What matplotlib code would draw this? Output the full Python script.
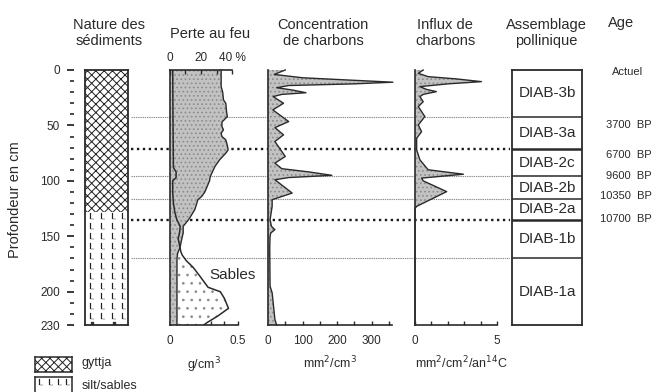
import numpy as np
import matplotlib
matplotlib.use('Agg')
import matplotlib.pyplot as plt
import matplotlib.transforms as mtransforms

plt.rcParams['font.family'] = ['Liberation Sans', 'DejaVu Sans']
plt.rcParams['hatch.linewidth'] = 0.7
TXT = '#2a2a2a'
LINE = '#2a2a2a'

# ---------------- data ----------------
loi_depth = [0, 15, 20, 27, 30, 38, 42, 47, 51, 54, 57, 60, 63, 68, 72, 75, 81, 87, 93, 96,
             100, 105, 110, 114, 117, 126, 135, 141, 147, 153, 160, 165, 170, 230]
loi_pct = [33, 33, 34, 34.5, 36, 36.5, 37, 33.5, 33.5, 34.5, 33, 33.5, 36, 37, 37.5, 36, 32, 29, 27, 26,
           25.5, 24, 22.5, 20.5, 18, 16, 12, 8.5, 8.5, 7.5, 6.5, 5, 4.5, 4.5]

den_depth = [0, 45, 88, 92, 97, 100, 110, 120, 128, 135, 141, 147, 152, 158, 164, 167, 172, 178,
             186, 196, 200, 206, 215, 222, 228, 230]
den_gcm3 = [0.02, 0.022, 0.025, 0.045, 0.045, 0.02, 0.02, 0.025, 0.035, 0.05, 0.075, 0.07, 0.06,
            0.07, 0.08, 0.09, 0.12, 0.17, 0.22, 0.28, 0.37, 0.40, 0.43, 0.35, 0.27, 0.25]

conc_depth = [0, 4, 7, 9, 11, 12.5, 14, 16, 18, 20.5, 22, 24, 30, 36, 46.5, 52, 58.5, 64.5, 78, 84,
              89, 92, 95, 97, 99, 111, 117, 123, 135, 141, 144, 147, 150, 160, 195, 201, 225, 230]
conc_val = [50, 18, 100, 230, 362, 250, 60, 25, 70, 110, 40, 15, 45, 14, 60, 20, 45, 20, 50, 20,
            40, 120, 185, 60, 20, 70, 12, 12, 6, 10, 20, 8, 6, 5, 6, 12, 20, 25]

influx_depth = [0, 3, 6, 8, 10.5, 12.5, 15, 17.5, 19.5, 22, 24, 28.6, 33, 42, 49.6, 55.6, 61.6, 72,
                81, 90, 94, 97.5, 100, 109.7, 123, 125, 230]
influx_val = [0.5, 0.2, 0.8, 2.5, 4.05, 2.0, 0.3, 0.7, 1.3, 0.5, 0.3, 0.5, 0.2, 0.6, 0.2, 0.4, 0.1, 0.1,
              0.3, 0.8, 2.95, 0.4, 0.5, 1.93, 0.1, 0.0, 0.0]

zone_bounds = [0, 42, 71, 96, 116, 135, 170, 230]
zone_labels = ['DIAB-3b', 'DIAB-3a', 'DIAB-2c', 'DIAB-2b', 'DIAB-2a', 'DIAB-1b', 'DIAB-1a']
boundary_thick = [False, True, False, False, True, False]

age_labels = ['Actuel', '3700  BP', '6700  BP', '9600  BP', '10350  BP', '10700  BP']
age_depth = [2, 50, 77, 96, 114, 134]

gyttja_base = 128
depth_major = [0, 50, 100, 150, 200, 230]
depth_minor = [d for d in range(10, 230, 10) if d % 50 != 0]

loi_ticks = [0, 10, 20, 30, 40]
loi_ticklabels = ['0', '', '20', '', '40 %']
den_ticks = [0, 0.1, 0.2, 0.3, 0.4, 0.5]
den_ticklabels = ['0', '', '', '', '', '0.5']
conc_ticks = [0, 50, 100, 150, 200, 250, 300, 350]
conc_ticklabels = ['0', '', '100', '', '200', '', '300', '']
influx_ticks = [0, 1, 2, 3, 4, 5]
influx_ticklabels = ['0', '', '', '', '', '5']

# ---------------- layout ----------------
W, H = 654, 392
fig = plt.figure(figsize=(W / 100, H / 100), dpi=100)
TOP, BOT = 70, 325


def add_px(x0, x1, y0=TOP, y1=BOT):
    ax = fig.add_axes([x0 / W, 1 - y1 / H, (x1 - x0) / W, (y1 - y0) / H])
    ax.patch.set_visible(False)
    return ax


def depth_axis(ax):
    ax.set_ylim(230, 0)
    ax.set_yticks([])


GREY = '#c2c2c2'


def grey_fill(ax, x, d):
    ax.fill_betweenx(d, 0, x, facecolor=GREY, edgecolor='#8c8c8c', hatch='....', lw=0, zorder=2, clip_on=False)
    ax.plot(x, d, color=LINE, lw=1.0, zorder=3, clip_on=False)


# background boundary lines
bg = add_px(131, 510)
bg.set_xlim(0, 1)
bg.set_ylim(230, 0)
bg.axis('off')
bg.set_zorder(0)
for d, thick in zip(zone_bounds[1:-1], boundary_thick):
    if thick:
        bg.axhline(d, color='#1a1a1a', lw=1.7, ls=(0, (1, 1.5)))
    else:
        bg.axhline(d, color='#8a8a8a', lw=0.8, ls=(0, (1.2, 0.8)))

# depth scale
axd = add_px(74, 75)
axd.set_ylim(230, 0)
axd.set_xticks([])
for s in axd.spines.values():
    s.set_visible(False)
axd.set_yticks(depth_major)
axd.set_yticks(depth_minor, minor=True)
axd.tick_params(axis='y', which='major', length=5, width=1.3, pad=5, labelsize=8.5,
                colors=TXT)
axd.tick_params(axis='y', which='minor', length=2.6, width=1.2, colors=TXT)
fig.text(15 / W, 1 - 200 / H, 'Profondeur en cm', rotation=90, ha='center', va='center',
         fontsize=10.5, color=TXT)

# sediments column
ax1 = add_px(85, 128)
ax1.set_zorder(2)
ax1.set_xlim(0, 1)
depth_axis(ax1)
ax1.set_xticks([])
ax1.fill_betweenx([0, gyttja_base], 0, 1, facecolor='white', edgecolor='#222', hatch='xxxx', lw=0)
rows = np.arange(gyttja_base + 4, 226, 9.0)
cols = np.array([0.17, 0.43, 0.67, 0.9])
gx, gy = np.meshgrid(cols, rows)
ax1.scatter(gx.ravel(), gy.ravel(), marker='$\\mathsf{L}$', s=24, color='#222', lw=0.15)
ax1.scatter(cols[[0, 2]], [228, 228], marker='s', s=2, color='#333')
for s in ax1.spines.values():
    s.set_linewidth(1.3)
    s.set_color(LINE)

# perte au feu / density
ax2 = add_px(170, 238)
ax2.set_zorder(2)
depth_axis(ax2)
den_max = 0.5
loi_max = 40 * (238 - 170) / (232 - 170)
ax2.set_xlim(0, den_max)
conv = den_max / loi_max
loi_x = np.array(loi_pct) * conv
grey_fill(ax2, loi_x, loi_depth)
d_grid = np.linspace(0, 230, 921)
den_i = np.interp(d_grid, den_depth, den_gcm3)
loi_i = np.interp(d_grid, loi_depth, loi_x)
ax2.fill_betweenx(d_grid, loi_i, den_i, where=den_i > loi_i, interpolate=True,
                  facecolor='white', edgecolor='#8c8c8c', hatch='..', lw=0, zorder=2)
ax2.plot(den_gcm3, den_depth, color=LINE, lw=1.1, zorder=4)
ax2.text(0.46, 185, 'Sables', fontsize=11, color=TXT, ha='center', va='center', zorder=5)
ax2.set_xticks(den_ticks)
ax2.set_xticklabels(den_ticklabels)
ax2.tick_params(axis='x', direction='in', length=3, width=1, pad=7, labelsize=8.5, colors=TXT)
ax2.spines['top'].set_visible(False)
ax2.spines['right'].set_visible(False)
ax2.spines['bottom'].set_bounds(0, den_max)
for k in ['left', 'bottom']:
    ax2.spines[k].set_linewidth(1.2)
    ax2.spines[k].set_color(LINE)
ax2.set_xlabel('g/cm$^3$', fontsize=9, color=TXT, labelpad=6)

ax2t = ax2.twiny()
ax2t.patch.set_visible(False)
ax2t.set_xlim(0, loi_max)
ax2t.set_xticks(loi_ticks)
ax2t.set_xticklabels(loi_ticklabels)
ax2t.tick_params(axis='x', direction='in', length=3, width=1, pad=4, labelsize=8.5, colors=TXT)
for k in ['left', 'right', 'bottom']:
    ax2t.spines[k].set_visible(False)
ax2t.spines['top'].set_bounds(0, 40)
ax2t.spines['top'].set_linewidth(1.2)
ax2t.spines['top'].set_color(LINE)

# concentration
conc_max = (392 - 268) / 0.345
ax3 = add_px(268, 392)
ax3.set_zorder(2)
depth_axis(ax3)
ax3.set_xlim(0, conc_max)
grey_fill(ax3, conc_val, conc_depth)
ax3.set_xticks(conc_ticks)
ax3.set_xticklabels(conc_ticklabels)
ax3.tick_params(axis='x', direction='in', length=3, width=1, pad=7, labelsize=8.5, colors=TXT)
ax3.spines['top'].set_visible(False)
ax3.spines['right'].set_visible(False)
for k in ['left', 'bottom']:
    ax3.spines[k].set_linewidth(1.2)
    ax3.spines[k].set_color(LINE)
ax3.set_xlabel('mm$^2$/cm$^3$', fontsize=9, color=TXT, labelpad=6)

# influx
ax4 = add_px(415, 497)
ax4.set_zorder(2)
depth_axis(ax4)
ax4.set_xlim(0, 5)
grey_fill(ax4, influx_val, influx_depth)
ax4.set_xticks(influx_ticks)
ax4.set_xticklabels(influx_ticklabels)
ax4.tick_params(axis='x', direction='in', length=3, width=1, pad=7, labelsize=8.5, colors=TXT)
ax4.spines['top'].set_visible(False)
ax4.spines['right'].set_visible(False)
for k in ['left', 'bottom']:
    ax4.spines[k].set_linewidth(1.2)
    ax4.spines[k].set_color(LINE)
ax4.set_xlabel('mm$^2$/cm$^2$/an$^{14}$C', fontsize=9, color=TXT, labelpad=6, loc='left')

# pollen assemblage zones
ax5 = add_px(512, 582)
ax5.set_zorder(2)
ax5.set_xlim(0, 1)
depth_axis(ax5)
ax5.set_xticks([])
for s in ax5.spines.values():
    s.set_linewidth(1.3)
    s.set_color(LINE)
for d, thick in zip(zone_bounds[1:-1], boundary_thick):
    ax5.axhline(d, color=LINE, lw=1.8 if thick else 1.1)
for lab, a, b in zip(zone_labels, zone_bounds[:-1], zone_bounds[1:]):
    ax5.text(0.5, (a + b) / 2, lab, ha='center', va='center', fontsize=11, color=TXT)

# ages
tr = mtransforms.blended_transform_factory(fig.transFigure, ax5.transData)
for lab, d in zip(age_labels, age_depth):
    x = 643 / W if lab == 'Actuel' else 652 / W
    fig.text(x, d, lab, transform=tr, ha='right', va='center', fontsize=8, color=TXT)

# titles
titles = [(109, 'Nature des\nsédiments'), (210, 'Perte au feu'), (323, 'Concentration\nde charbons'),
          (445, 'Influx de\ncharbons'), (546, 'Assemblage\npollinique'), (621, 'Age')]
for x, t in titles:
    yc = 33 if '\n' in t else (34 if t != 'Age' else 23)
    fig.text(x / W, 1 - yc / H, t, ha='center', va='center', fontsize=10.5, color=TXT,
             linespacing=1.25)

# legend
lg1 = add_px(35, 72, 357, 372)
lg1.set_xlim(0, 1); lg1.set_ylim(0, 1); lg1.set_xticks([]); lg1.set_yticks([])
lg1.fill_between([0, 1], 0, 1, facecolor='white', edgecolor='#222', hatch='xxxx', lw=0)
lg2 = add_px(35, 72, 377, 393)
lg2.set_xlim(0, 1); lg2.set_ylim(0, 1); lg2.set_xticks([]); lg2.set_yticks([])
lg2.scatter(cols, np.full(4, 0.68), marker='$\\mathsf{L}$', s=22, color='#222', lw=0.15)
for a in (lg1, lg2):
    for s in a.spines.values():
        s.set_linewidth(1.1)
        s.set_color(LINE)
fig.text(82 / W, 1 - 363 / H, 'gyttja', ha='left', va='center', fontsize=9, color=TXT)
fig.text(82 / W, 1 - 386 / H, 'silt/sables', ha='left', va='center', fontsize=9, color=TXT)

fig.savefig('out.png', dpi=100)
